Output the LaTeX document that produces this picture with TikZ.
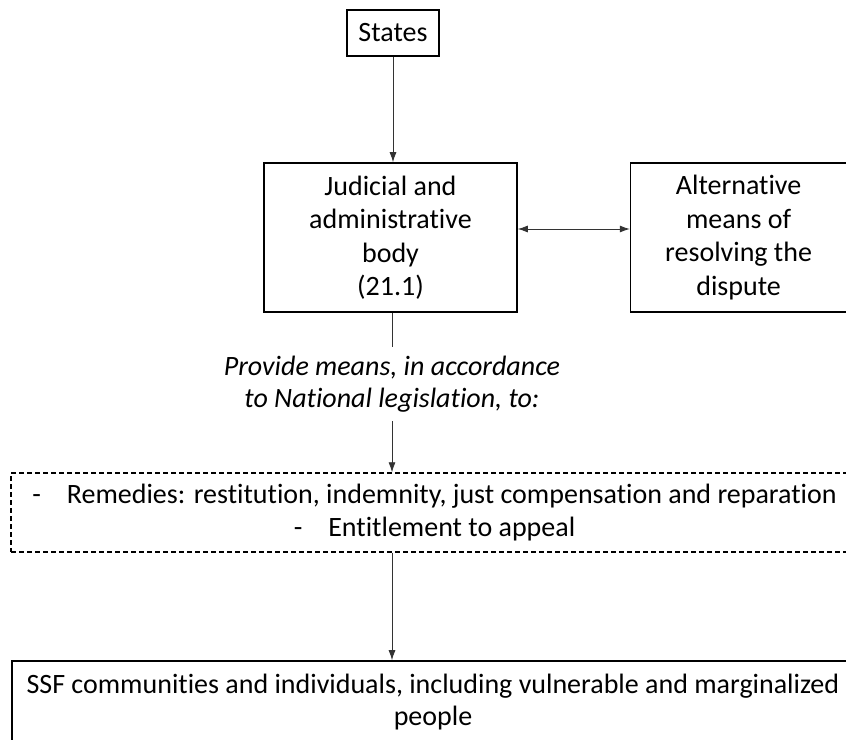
\documentclass[tikz,border=0pt]{standalone}
\usepackage{fontspec}
\setmainfont{Carlito}[Ligatures=NoCommon]
\usetikzlibrary{arrows.meta,positioning}

\begin{document}
\begin{tikzpicture}[x=1pt, y=-1pt, auto,
    every node/.style={font=\fontsize{28}{33.5}\selectfont},
    block/.style={rectangle, draw, line width=1.6pt, align=center, inner sep=0pt},
    dashbox/.style={rectangle, draw, line width=1.4pt, dash pattern=on 5pt off 3pt, align=center, inner sep=0pt},
    line/.style={draw, black!80, -{Latex[length=10pt,width=7pt]}, line width=0.8pt},
    dline/.style={draw, black!80, {Latex[length=10pt,width=7pt]}-{Latex[length=10pt,width=7pt]}, line width=0.8pt}]
    \useasboundingbox (0,0) rectangle (846,739);

    % Nodes
    \node [block, minimum width=92pt, minimum height=46pt] (states) at (393,33) {States};
    \node [block, minimum width=253pt, minimum height=149pt] (judicial) at (390.5,237.5) {Judicial and\\administrative\\body\\(21.1)};
    \node [block, minimum width=216pt, minimum height=149pt, right=112pt of judicial] (alt) {Alternative\\means of\\resolving the\\dispute};
    \node [align=center, inner xsep=0pt, inner ysep=9pt, font=\fontsize{28}{32}\selectfont\itshape] (provide) at (392,384) {Provide means, in accordance\\to National legislation, to:};
    \node [dashbox, minimum width=847pt, minimum height=79pt] (remedies) at (434.5,512.5) {-\hspace{26pt}Remedies: restitution, indemnity, just compensation and reparation\\-\hspace{26pt}Entitlement to appeal};
    \node [block, minimum width=842pt, minimum height=82pt] (ssf) at (433,702) {SSF communities and individuals, including vulnerable and marginalized\\[-2pt]people};

    % Edges
    \path [line] (states.south) -- (states.south |- judicial.north);
    \path [dline] ([yshift=8.5pt]judicial.east) -- ([yshift=8.5pt]alt.west);
    \draw [black!80, line width=0.8pt] (provide.north |- judicial.south) -- (provide.north);
    \path [line] (provide.south) -- (provide.south |- remedies.north);
    \path [line] (provide.south |- remedies.south) -- (provide.south |- ssf.north);
\end{tikzpicture}
\end{document}
